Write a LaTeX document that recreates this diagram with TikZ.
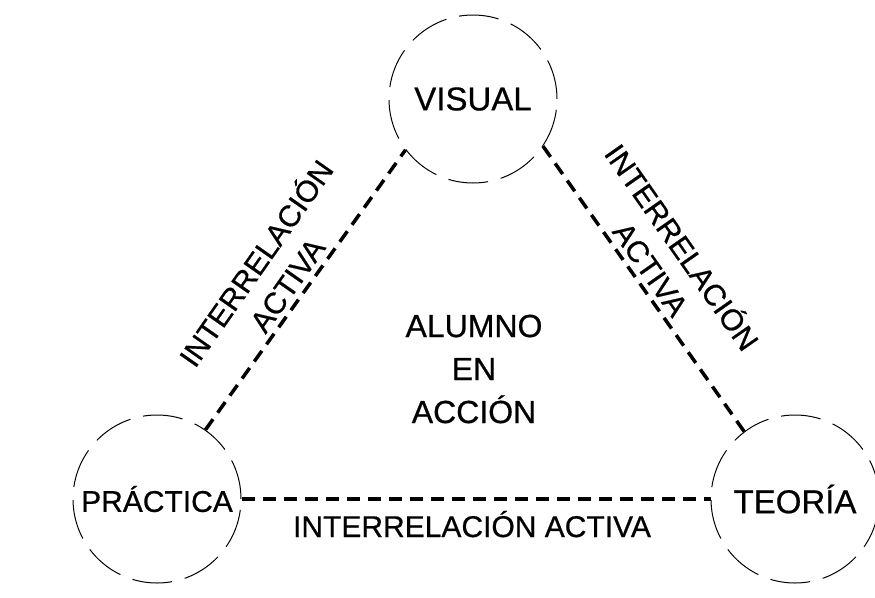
\documentclass[tikz,border=0pt]{standalone}
\usepackage{fontspec}
\setmainfont{Liberation Sans}[FakeBold=0.6]
\begin{document}
\begin{tikzpicture}[x=1pt,y=-1pt,
  circ/.style={circle, draw, line width=1pt, dash pattern=on 40pt off 13pt,
    minimum size=168pt, inner sep=0pt, font=\fontsize{33}{37}\selectfont},
  link/.style={line width=3.5pt, dash pattern=on 13pt off 8pt},
  lbl/.style={align=center, inner sep=0pt, font=\fontsize{30}{38}\selectfont},
  mid/.style={align=center, inner sep=0pt, font=\fontsize{32}{43}\selectfont}]
\useasboundingbox (0,0) rectangle (875,597);
\node[circ] (V) at (473,99) {VISUAL};
\node[circ, font=\fontsize{30}{36}\selectfont] (P) at (157,499) {PRÁCTICA};
\node[circ] (T) at (795,499) {TEORÍA};
\draw[link] (P.55) -- (V.217);
\draw[link] (V.326) -- (T.127);
\draw[link] (P.0) -- (T.180);
\node[lbl, rotate=55] (L1) at (270,273) {INTERRELACIÓN\\ACTIVA};
\node[lbl, rotate=-55] (L2) at (668,257) {INTERRELACIÓN\\ACTIVA};
\node[lbl, anchor=base] (L3) at (472,537) {INTERRELACIÓN ACTIVA};
\node[mid] (C) at (474,369) {ALUMNO\\EN\\ACCIÓN};
\end{tikzpicture}
\end{document}
